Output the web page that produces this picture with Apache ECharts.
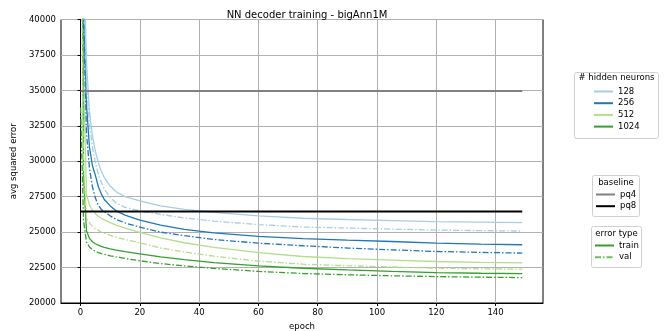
<!DOCTYPE html>
<html>
<head>
<meta charset="utf-8">
<script src="https://cdn.jsdelivr.net/npm/echarts@6/dist/echarts.min.js"></script>
<style>
html,body{margin:0;padding:0;background:#fff;overflow:hidden;}
#chart{width:670px;height:331px;}
</style>
</head>
<body>
<div id="chart"></div>
<script>
// ---- data ----
var epochs = [0,1,2,3,4,5,6,7,8,10,12,15,20,27,35,45,60,75,90,105,120,135,149];
var train128 = [120000,45000,37000,33500,31800,30700,29900,29300,28850,28250,27850,27500,27200,26850,26600,26400,26150,25980,25890,25810,25737,25700,25666];
var val128   = [100000,42000,35500,32600,31000,29900,29100,28500,28050,27450,27050,26750,26500,26250,26000,25780,25530,25360,25290,25215,25146,25105,25077];
var train256 = [100000,40500,34000,31000,29700,29000,28200,27700,27300,26850,26500,26200,25850,25500,25200,24950,24700,24540,24430,24340,24228,24160,24108];
var val256   = [90000,40000,32000,29500,28200,27400,26900,26600,26450,26150,25900,25650,25350,25000,24750,24480,24220,24040,23880,23750,23635,23570,23520];
var train512 = [55000,36000,27700,26900,26550,26300,26120,25980,25860,25670,25500,25280,24980,24600,24250,23920,23550,23280,23130,23030,22927,22870,22833];
var val512   = [50000,29500,26000,25650,25420,25250,25120,25010,24920,24770,24650,24480,24250,23880,23600,23300,22950,22740,22630,22540,22457,22410,22386];
var train1024= [70000,29000,25100,24560,24320,24180,24080,24000,23930,23820,23730,23620,23470,23260,23060,22850,22620,22450,22330,22230,22146,22100,22075];
var val1024  = [33800,25800,24300,23950,23770,23650,23560,23490,23430,23330,23250,23140,22980,22780,22620,22440,22230,22080,21990,21920,21863,21820,21792];
var baselineEpochs = [0,149];
var pq4 = 34950;
var pq8 = 26460;
var xTicks = [0,20,40,60,80,100,120,140];
var neurons = ['128','256','512','1024'];
var colors = ['#a6cee3','#1f78b4','#b2df8a','#33a02c'];

function pts(ys){ return epochs.map(function(e,i){ return [e, ys[i]]; }); }

var F = 'DejaVu Sans';
var trains = [train128, train256, train512, train1024];
var vals = [val128, val256, val512, val1024];
var series = [];
neurons.forEach(function(n,i){
  series.push({name:n, type:'line', data:pts(trains[i]), symbol:'none', silent:true,
    lineStyle:{color:colors[i], width:1.3}, itemStyle:{color:colors[i]}, z:2});
});
neurons.forEach(function(n,i){
  series.push({name:n+' val', type:'line', data:pts(vals[i]), symbol:'none', silent:true,
    lineStyle:{color:colors[i], width:1.3, type:[6,2,1.5,2]}, itemStyle:{color:colors[i]}, z:2});
});
series.push({name:'pq4', type:'line', symbol:'none', silent:true, data:baselineEpochs.map(function(e){return [e,pq4];}),
  lineStyle:{color:'#808080', width:2}, itemStyle:{color:'#808080'}, z:3});
series.push({name:'pq8', type:'line', symbol:'none', silent:true, data:baselineEpochs.map(function(e){return [e,pq8];}),
  lineStyle:{color:'#000000', width:2}, itemStyle:{color:'#000000'}, z:3});
series.push({name:'train', type:'line', symbol:'none', data:[], lineStyle:{color:'#33a02c', width:1.5}, itemStyle:{color:'#33a02c'}});
series.push({name:'val', type:'line', symbol:'none', data:[], lineStyle:{color:'#6cc05f', width:1.5, type:[6,2,1.5,2]}, itemStyle:{color:'#6cc05f'}});

var legendBase = {orient:'vertical', padding:0, itemWidth:19, itemHeight:10, itemGap:2.7, selectedMode:false,
  itemStyle:{color:'rgba(0,0,0,0)', borderWidth:0, opacity:0},
  textStyle:{fontFamily:F, fontSize:8.5, color:'#000', padding:[0,0,0,0]}};
function legend(extra){ var o = {}; for (var k in legendBase) o[k]=legendBase[k]; for (var k2 in extra) o[k2]=extra[k2]; return o; }

var chart = echarts.init(document.getElementById('chart'), null, {renderer:'canvas', width:670, height:331});
chart.setOption({
  animation:false,
  backgroundColor:'#fff',
  title:{text:'NN decoder training - bigAnn1M', left:302, top:5, textAlign:'center',
    textStyle:{fontFamily:F, fontSize:10, fontWeight:'normal', color:'#000'}},
  grid:{left:61, top:19.5, width:482, height:283.5, show:true, borderColor:'#000', borderWidth:1,
    containLabel:false, outerBoundsMode:'none'},
  xAxis:{type:'value', min:-6.6, max:156, name:'epoch', nameLocation:'middle', nameGap:17,
    nameTextStyle:{fontFamily:F, fontSize:8.5, color:'#000'},
    axisLine:{show:true, lineStyle:{color:'#000'}},
    axisTick:{show:true, length:3, lineStyle:{color:'#000'}, customValues:xTicks},
    axisLabel:{fontFamily:F, fontSize:8.5, color:'#000', margin:5, customValues:xTicks},
    splitLine:{show:true, lineStyle:{color:'#b0b0b0', width:1}}},
  yAxis:{type:'value', min:20000, max:40000, interval:2500, name:'avg squared error', nameLocation:'middle', nameGap:35,
    nameTextStyle:{fontFamily:F, fontSize:8.5, color:'#000'},
    axisLine:{show:true, lineStyle:{color:'#000'}},
    axisTick:{show:true, length:3, lineStyle:{color:'#000'}},
    axisLabel:{fontFamily:F, fontSize:8.5, color:'#000', margin:5, formatter:function(v){return String(v);}},
    splitLine:{show:true, lineStyle:{color:'#b0b0b0', width:1}}},
  legend:[
    legend({left:593, top:87, data:neurons}),
    legend({left:595, top:190, data:['pq4','pq8']}),
    legend({left:594, top:241, data:['train','val']})
  ],
  graphic:[
    {type:'rect', shape:{x:574.5, y:72.5, width:84, height:66, r:2}, style:{fill:'#fff', stroke:'#d0d0d0', lineWidth:1}, z:-1},
    {type:'text', x:616.5, y:73, style:{text:'# hidden neurons', fontFamily:F, fontSize:8.5, fill:'#000', align:'center', verticalAlign:'top'}},
    {type:'rect', shape:{x:592.5, y:175.5, width:47, height:41, r:2}, style:{fill:'#fff', stroke:'#d0d0d0', lineWidth:1}, z:-1},
    {type:'text', x:616, y:178, style:{text:'baseline', fontFamily:F, fontSize:8.5, fill:'#000', align:'center', verticalAlign:'top'}},
    {type:'rect', shape:{x:591.5, y:226.5, width:50, height:41, r:2}, style:{fill:'#fff', stroke:'#d0d0d0', lineWidth:1}, z:-1},
    {type:'text', x:616.5, y:229, style:{text:'error type', fontFamily:F, fontSize:8.5, fill:'#000', align:'center', verticalAlign:'top'}}
  ],
  series:series
});
</script>
</body>
</html>
